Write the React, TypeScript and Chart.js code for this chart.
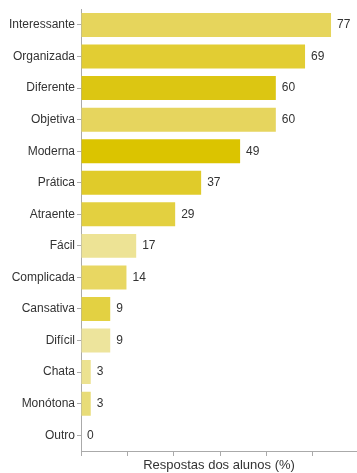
import React, { useEffect, useRef } from "react";
import { Chart, registerables } from "chart.js";

Chart.register(...registerables);

const categories = [
  "Interessante", "Organizada", "Diferente", "Objetiva", "Moderna", "Prática", "Atraente",
  "Fácil", "Complicada", "Cansativa", "Difícil", "Chata", "Monótona", "Outro",
];
const values = [77, 69, 60, 60, 49, 37, 29, 17, 14, 9, 9, 3, 3, 0];
const barColors = [
  "#e6d55c", "#e2cd33", "#dcc612", "#e6d55e", "#dbc400", "#e0cb2a", "#e3d040",
  "#ede395", "#e8d762", "#e3d142", "#ede49c", "#ece290", "#e8dc78", "#e8dc78",
];
const xTitle = "Respostas dos alunos (%)";
const xTickStep = 100 / 7;
const xMax = 85;

const FONT = "'Liberation Sans', Arial, sans-serif";

const valueLabels = {
  id: "valueLabels",
  afterDatasetsDraw(chart: any) {
    const ctx = chart.ctx;
    const meta = chart.getDatasetMeta(0);
    ctx.save();
    ctx.font = `12px ${FONT}`;
    ctx.fillStyle = "#333";
    ctx.textAlign = "left";
    ctx.textBaseline = "middle";
    meta.data.forEach((bar: any, i: number) => {
      ctx.fillText(String(values[i]), bar.x + 6, bar.y);
    });
    ctx.restore();
  },
};

export default function App() {
  const ref = useRef<HTMLCanvasElement | null>(null);
  useEffect(() => {
    document.body.style.margin = "0";
    const chart = new Chart(ref.current!, {
      type: "bar",
      data: {
        labels: categories,
        datasets: [
          {
            data: values,
            backgroundColor: barColors,
            borderWidth: 0,
            categoryPercentage: 0.76,
            barPercentage: 1,
          },
        ],
      },
      options: {
        indexAxis: "y",
        animation: false,
        responsive: false,
        layout: { padding: { top: 6, left: 0, right: 0, bottom: 0 } },
        plugins: { legend: { display: false }, tooltip: { enabled: false } },
        scales: {
          x: {
            min: 0,
            max: xMax,
            afterBuildTicks: (s: any) => {
              const t = [];
              for (let i = 0; i * xTickStep <= xMax; i++) t.push({ value: i * xTickStep });
              s.ticks = t;
            },
            ticks: { callback: () => "", font: { size: 1 } },
            grid: { drawOnChartArea: false, drawTicks: true, tickLength: 5, color: "#aaa" },
            border: { display: true, color: "#aaa" },
            title: {
              display: true,
              text: xTitle,
              color: "#333",
              font: { family: FONT, size: 13 },
              padding: { top: 2, bottom: 0 },
            },
            afterFit: (s: any) => {
              s.height = 22;
            },
          },
          y: {
            ticks: { color: "#333", font: { family: FONT, size: 12 }, padding: 2 },
            grid: { drawOnChartArea: false, drawTicks: true, tickLength: 4, color: "#aaa", offset: false },
            border: { display: true, color: "#aaa" },
            afterFit: (s: any) => {
              s.width = 81;
            },
          },
        },
      },
      plugins: [valueLabels],
    });
    return () => chart.destroy();
  }, []);
  return <canvas ref={ref} width={357} height={473} style={{ display: "block" }} />;
}
